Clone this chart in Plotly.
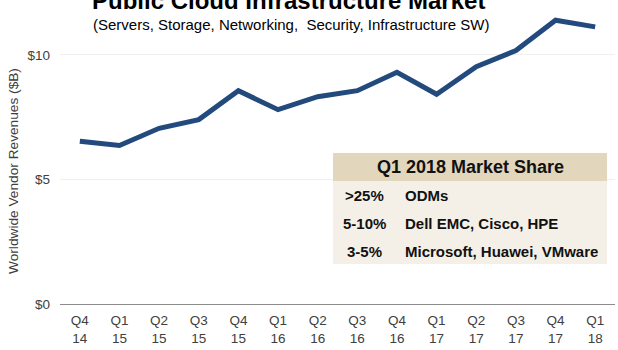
import plotly.graph_objects as go

quarters = ["Q4<br>14", "Q1<br>15", "Q2<br>15", "Q3<br>15", "Q4<br>15", "Q1<br>16", "Q2<br>16",
            "Q3<br>16", "Q4<br>16", "Q1<br>17", "Q2<br>17", "Q3<br>17", "Q4<br>17", "Q1<br>18"]
revenues = [6.53, 6.36, 7.05, 7.40, 8.56, 7.80, 8.32, 8.56, 9.30, 8.42, 9.52, 10.17, 11.39, 11.12]
y_ticks = [0, 5, 10]
y_tick_labels = ["$0", "$5", "$10"]

table_title = "Q1 2018 Market Share"
share_ranges = [">25%", "5-10%", "3-5%"]
share_vendors = ["ODMs", "Dell EMC, Cisco, HPE", "Microsoft, Huawei, VMware"]

W, H = 618, 350
ML, MR, MT, MB = 60, 3, 0, 46
PW, PH = W - ML - MR, H - MT - MB

def px(x):
    return (x - ML) / PW

def py(y):
    return (H - MB - y) / PH

fig = go.Figure()
fig.add_trace(go.Scatter(
    x=list(range(len(quarters))), y=revenues, mode="lines",
    line=dict(color="#234a7d", width=5), hoverinfo="skip", showlegend=False,
))

font = "Liberation Sans, Arial, sans-serif"
shapes = [
    dict(type="rect", xref="paper", yref="paper", x0=px(333), x1=px(607), y0=py(264), y1=py(181),
         fillcolor="#f4f0e7", line=dict(width=0), layer="above"),
    dict(type="rect", xref="paper", yref="paper", x0=px(333), x1=px(607), y0=py(181), y1=py(153),
         fillcolor="#e2d6bd", line=dict(width=0), layer="above"),
]
annotations = [
    dict(text="<b>Public Cloud Infrastructure Market</b>", xref="paper", yref="paper",
         x=px(288), y=py(1), xanchor="center", yanchor="middle", showarrow=False,
         font=dict(family=font, size=24, color="#000000")),
    dict(text="(Servers, Storage, Networking,  Security, Infrastructure SW)", xref="paper", yref="paper",
         x=px(291), y=py(24), xanchor="center", yanchor="middle", showarrow=False,
         font=dict(family=font, size=15, color="#000000")),
    dict(text="Worldwide Vendor Revenues ($B)", xref="paper", yref="paper",
         x=px(13), y=py(171), xanchor="center", yanchor="middle", showarrow=False, textangle=-90,
         font=dict(family=font, size=13.7, color="#404040")),
    dict(text="<b>" + table_title + "</b>", xref="paper", yref="paper",
         x=px(470), y=py(167), xanchor="center", yanchor="middle", showarrow=False,
         font=dict(family=font, size=18, color="#111111")),
]
row_y = [195, 223, 251]
for r, v, yy in zip(share_ranges, share_vendors, row_y):
    annotations.append(dict(text="<b>" + r + "</b>", xref="paper", yref="paper",
                            x=px(364), y=py(yy), xanchor="center", yanchor="middle", showarrow=False,
                            font=dict(family=font, size=15, color="#111111")))
    annotations.append(dict(text="<b>" + v + "</b>", xref="paper", yref="paper",
                            x=px(403), y=py(yy), xanchor="left", yanchor="middle", showarrow=False,
                            font=dict(family=font, size=15, color="#111111")))

fig.update_layout(
    width=W, height=H, margin=dict(l=ML, r=MR, t=MT, b=MB),
    paper_bgcolor="white", plot_bgcolor="white",
    font=dict(family=font, size=13, color="#404040"),
    shapes=shapes, annotations=annotations,
    xaxis=dict(tickmode="array", tickvals=list(range(len(quarters))), ticktext=quarters,
               range=[-0.5, 13.5], showgrid=False, zeroline=False, showline=True,
               linecolor="#8c8c8c", linewidth=1, ticks="", ticklabelstandoff=4,
               tickfont=dict(size=13.5, color="#404040")),
    yaxis=dict(tickmode="array", tickvals=y_ticks, ticktext=y_tick_labels, range=[0, 12.2],
               showgrid=True, gridcolor="#efefef", gridwidth=1, zeroline=False, showline=False,
               ticks="", ticklabelstandoff=9, tickfont=dict(size=13.5, color="#404040")),
)
fig.write_html("out.html")
